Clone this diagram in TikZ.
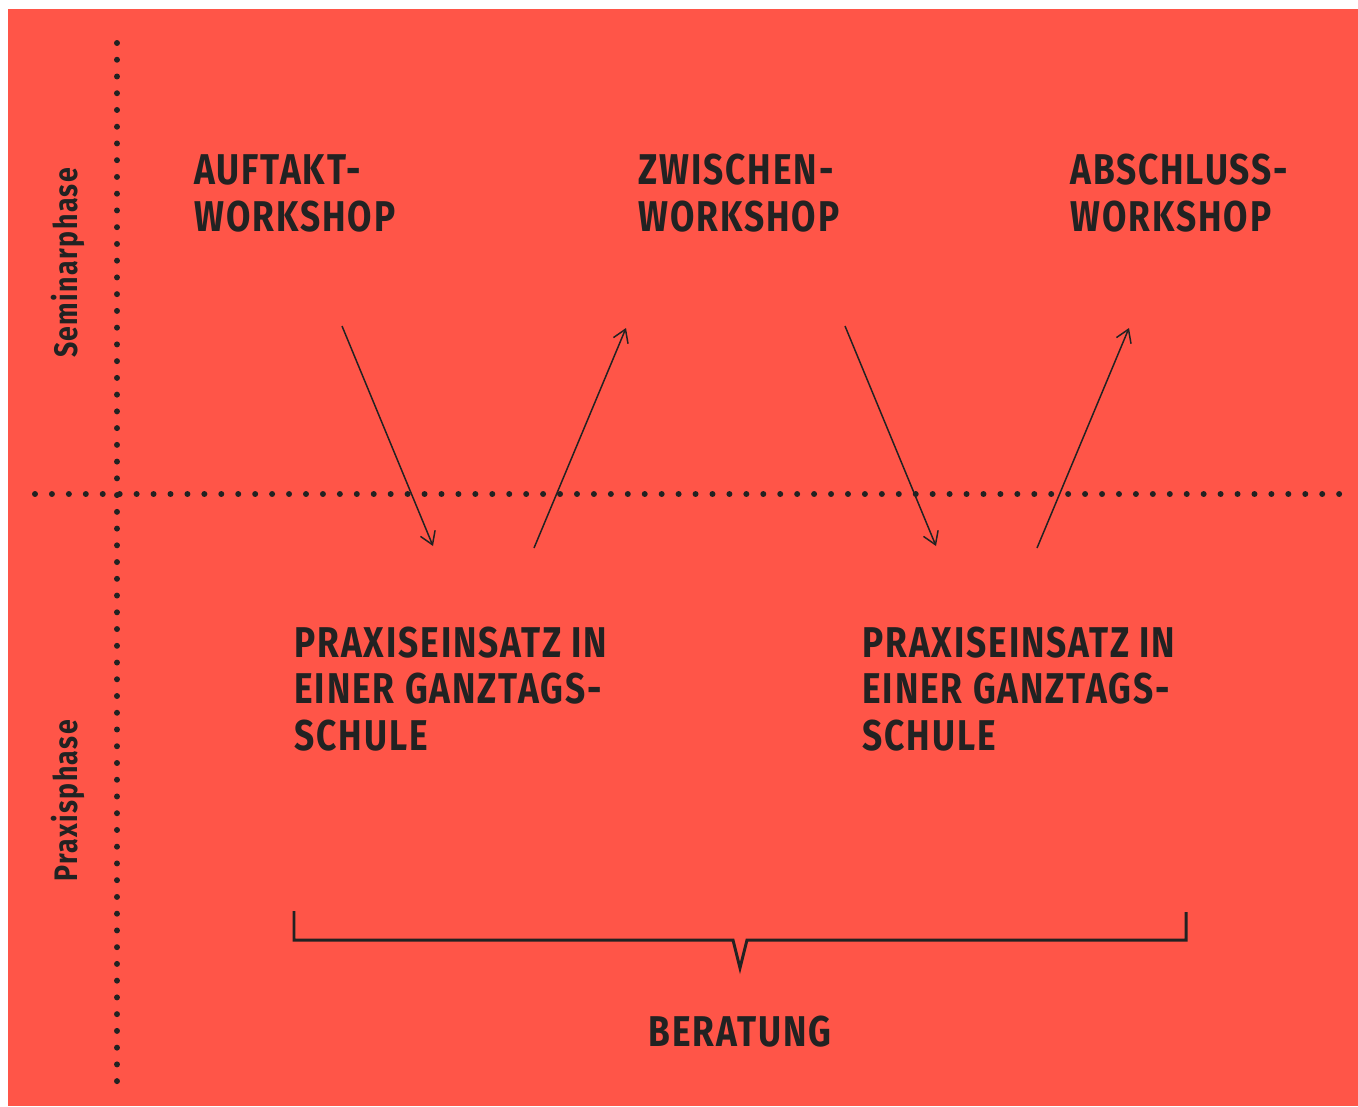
\documentclass[tikz,border=0pt]{standalone}
\usepackage{fontspec}
\setmainfont{Fira Sans}[FakeStretch=0.84]
\newfontfamily\stagefont{Fira Sans}[FakeStretch=0.82, LetterSpace=4.5]
\usetikzlibrary{arrows.meta}
\definecolor{bgred}{HTML}{FF5548}
\definecolor{ink}{HTML}{222222}

\begin{document}
\begin{tikzpicture}[
    x=0.02cm, y=-0.02cm,
    >={Straight Barb[length=7pt, width=9pt]},
    stage/.style={anchor=base west, align=left, inner sep=0, text=ink,
        font=\stagefont\fontsize{24.5}{26.2}\selectfont\bfseries},
    phase/.style={rotate=90, inner sep=0, text=ink,
        font=\stagefont\fontsize{18.5}{20}\selectfont\bfseries},
    dots/.style={ink, line width=3.4pt, line cap=round, dash pattern=on 0pt off #1},
    flow/.style={->, ink, line width=0.85pt},
    bracket/.style={ink, line width=1.7pt, miter limit=10}
]

% Background :
\fill[white] (0,0) rectangle (1358,1106);
\fill[bgred] (8,9) rectangle (1358,1106);

% Phase separators :
\draw[dots=9.53pt] (117,43) -- (117,1082);
\draw[dots=9.64pt] (35,494) -- (1340,494);

% Phase labels :
\node[phase] (seminar) at (68,263) {Seminarphase};
\node[phase] (praxisphase) at (68,801) {Praxisphase};

% Workshops (base = last line) :
\node[stage] (auftakt) at (194,231) {AUFTAKT-\\WORKSHOP};
\node[stage] (zwischen) at (638,231) {ZWISCHEN-\\WORKSHOP};
\node[stage] (abschluss) at (1070,231) {ABSCHLUSS-\\WORKSHOP};

% Practice :
\node[stage] (praxis1) at (294,750) {PRAXISEINSATZ IN\\EINER GANZTAGS-\\SCHULE};
\node[stage] (praxis2) at (862,750) {PRAXISEINSATZ IN\\EINER GANZTAGS-\\SCHULE};
\node[stage, anchor=base] (beratung) at (740,1046) {BERATUNG};

% Arrow ends :
\coordinate (a1s) at (342,326);
\coordinate (a1e) at (433,546);
\coordinate (a2s) at (534,548);
\coordinate (a2e) at (626,328);
\coordinate (a3s) at (845,326);
\coordinate (a3e) at (936,546);
\coordinate (a4s) at (1037,548);
\coordinate (a4e) at (1129,328);

\draw[flow] (a1s) -- (a1e);
\draw[flow] (a2s) -- (a2e);
\draw[flow] (a3s) -- (a3e);
\draw[flow] (a4s) -- (a4e);

% Bracket :
\coordinate (bl) at (294,911);
\coordinate (br) at (1186,912);
\coordinate (btip) at (740,968);
\draw[bracket] (bl) -- (294,940) -- (733,940) -- (btip) -- (747,940) -- (1186,940) -- (br);

\end{tikzpicture}
\end{document}
